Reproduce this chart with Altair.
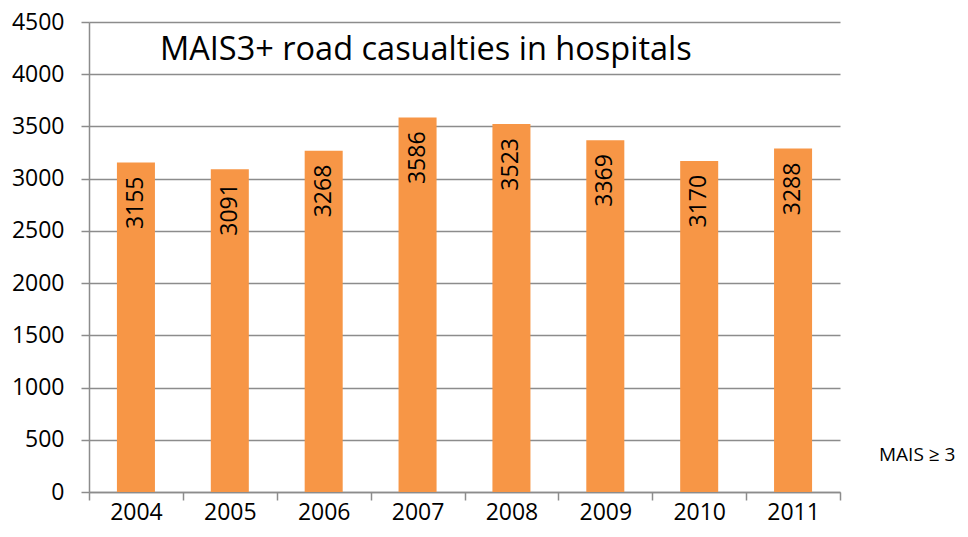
import altair as alt
import pandas as pd

years = ["2004", "2005", "2006", "2007", "2008", "2009", "2010", "2011"]
values = [3155, 3091, 3268, 3586, 3523, 3369, 3170, 3288]
series_name = "MAIS ≥ 3"
title_text = "MAIS3+ road casualties in hospitals"

df = pd.DataFrame({"year": years, "value": values, "series": series_name})

FONT = "Open Sans"
GRID = "#8c8c8c"

x = alt.X("year:N", title=None, sort=years,
          scale=alt.Scale(paddingInner=0, paddingOuter=0),
          axis=alt.Axis(labelAngle=0, labelFontSize=23, labelFont=FONT, labelColor="black",
                        labelPadding=1, tickBand="extent", tickSize=8, tickColor=GRID,
                        tickWidth=1.5, domainColor=GRID, domainWidth=1.5, grid=False))
y = alt.Y("value:Q", title=None,
          scale=alt.Scale(domain=[0, 4500], nice=False),
          axis=alt.Axis(values=list(range(0, 4501, 500)), format="d", labelFontSize=23,
                        labelFont=FONT, labelColor="black", labelPadding=17, tickSize=8,
                        tickColor=GRID, tickWidth=1.5, domainColor=GRID, domainWidth=1.5,
                        gridColor=GRID, gridWidth=1.5))

bars = alt.Chart(df).mark_bar(width=alt.RelativeBandSize(0.405)).encode(
    x=x, y=y,
    color=alt.Color("series:N", scale=alt.Scale(range=["#F79646"]),
                    legend=alt.Legend(title=None, orient="none", legendX=771, legendY=423,
                                      symbolOpacity=0, symbolStrokeWidth=0, symbolSize=1,
                                      labelFont=FONT, labelFontSize=19, labelColor="black",
                                      labelOffset=0, labelLimit=200))
)

labels = alt.Chart(df).mark_text(angle=270, align="right", baseline="middle", dx=-14,
                                 fontSize=23, font=FONT, color="black").encode(
    x=alt.X("year:N", sort=years), y="value:Q", text="value:Q"
)

title = alt.Chart(pd.DataFrame({"t": [title_text]})).mark_text(
    align="left", baseline="middle", fontSize=32.5, font=FONT, color="black"
).encode(x=alt.value(71), y=alt.value(28), text="t:N")

chart = alt.layer(bars, labels, title).properties(
    width=751, height=470,
    autosize=alt.AutoSizeParams(type="none"),
    padding={"left": 81, "top": 14, "right": 119, "bottom": 37},
).configure_view(stroke=None)

chart.save("out.html", embed_options={"renderer": "svg", "actions": False})
